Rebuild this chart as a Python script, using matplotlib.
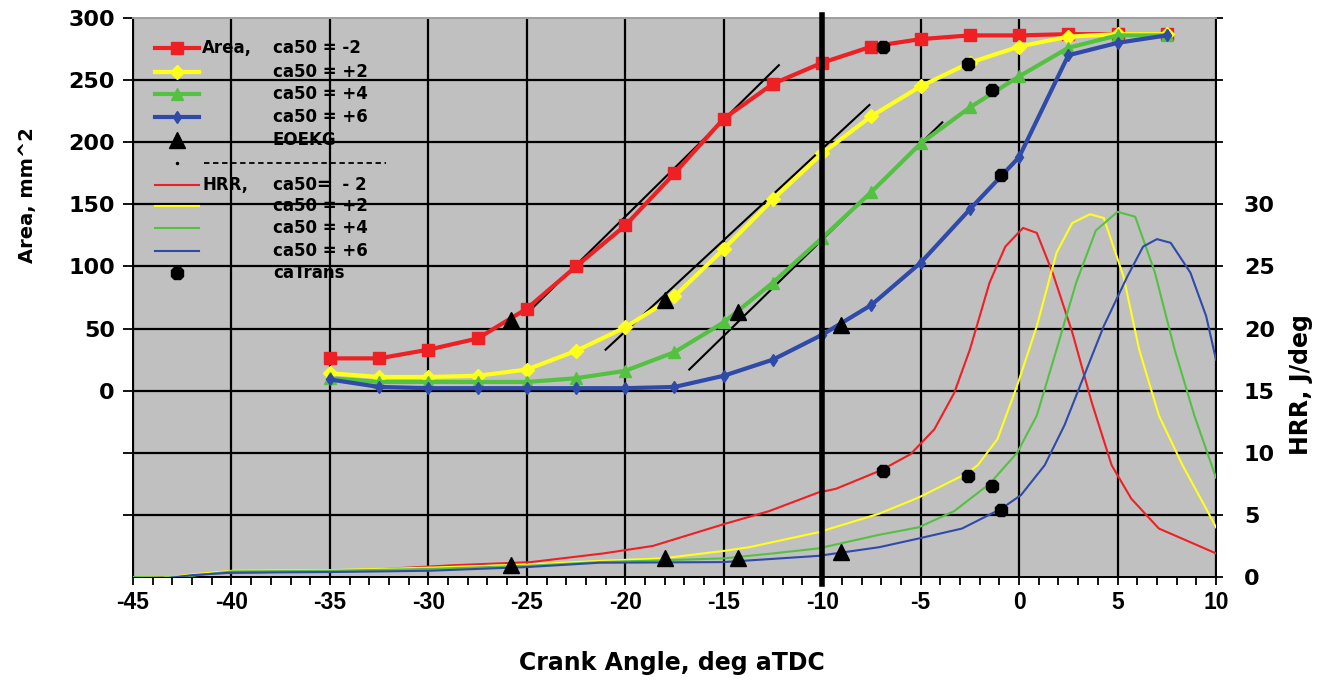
import matplotlib
matplotlib.use("Agg")
import matplotlib.pyplot as plt
from matplotlib.lines import Line2D

plt.rcParams["axes.unicode_minus"] = False

# ---------------- data ----------------
ca_area = [-35, -32.5, -30, -27.5, -25, -22.5, -20, -17.5, -15, -12.5, -10,
           -7.5, -5, -2.5, 0, 2.5, 5, 7.5]
area_m2 = [26, 26, 33, 42, 66, 100, 133, 175, 219, 247, 264, 277, 283, 286, 286, 287, 287, 287]
area_p2 = [14, 11, 11, 12, 17, 32, 51, 76, 114, 154, 191, 221, 245, 264, 277, 285, 287, 287]
area_p4 = [10, 7, 7, 7, 7, 10, 16, 31, 55, 87, 123, 160, 199, 228, 253, 276, 286, 286]
area_p6 = [9, 3, 2, 2, 2, 2, 2, 3, 12, 25, 45, 69, 103, 146, 188, 270, 280, 286]

hrr_x_m2 = [-45, -43.5, -42, -41, -38, -35, -32.8, -28.7, -24.8, -21.1, -18.6, -14.9,
            -12.7, -10.2, -9.3, -7.0, -5.5, -4.3, -3.3, -2.5, -1.5, -0.7, 0.2, 0.9,
            1.7, 2.7, 3.7, 4.7, 5.7, 7.1, 8.7, 10]
hrr_m2 = [0, -0.05, 0.15, 0.3, 0.4, 0.45, 0.6, 0.95, 1.2, 1.9, 2.5, 4.3,
          5.3, 6.8, 7.1, 8.6, 9.9, 11.9, 14.8, 18.3, 23.7, 26.6, 28.1, 27.7,
          24.5, 19.7, 14.0, 9.0, 6.3, 3.9, 2.8, 1.9]
hrr_x_p2 = [-45, -43.5, -42, -40, -35, -30, -25, -21.3, -18.1, -15, -13.7, -10.2,
            -7.1, -5.1, -2.7, -2.1, -1.1, -0.1, 0.9, 1.9, 2.7, 3.6, 4.3, 5.3, 6.1,
            7.1, 8.3, 9.5, 10]
hrr_p2 = [0, -0.05, 0.2, 0.5, 0.55, 0.75, 1.0, 1.3, 1.5, 2.1, 2.4, 3.6,
          5.1, 6.4, 8.3, 9.0, 11.1, 15.4, 20.2, 26.1, 28.5, 29.2, 28.9, 24.2, 18.3,
          13.0, 9.0, 5.5, 4.0]
hrr_x_p4 = [-45, -43.5, -42, -40, -35, -30, -25, -21.3, -18, -15, -12.5, -10.2,
            -7.1, -5.1, -3.3, -1.5, -0.1, 0.9, 1.9, 2.9, 3.9, 5.0, 5.9, 6.9, 7.9,
            8.9, 10]
hrr_p4 = [0, -0.05, 0.1, 0.45, 0.5, 0.65, 0.9, 1.2, 1.35, 1.5, 1.9, 2.3,
          3.4, 4.0, 5.3, 7.5, 10.0, 13.0, 18.3, 23.7, 27.9, 29.4, 29.0, 24.5, 18.3,
          13.0, 8.0]
hrr_x_p6 = [-45, -43.5, -42, -40, -35, -30, -25, -21.3, -15, -10.2, -7.1, -5.1,
            -2.9, -0.9, 0.1, 1.3, 2.3, 3.3, 4.3, 5.5, 6.3, 7.0, 7.7, 8.7, 9.5, 10]
hrr_p6 = [-0.1, -0.15, 0.15, 0.35, 0.4, 0.5, 0.8, 1.15, 1.2, 1.7, 2.4, 3.1,
          3.9, 5.5, 6.6, 9.0, 12.2, 16.2, 20.2, 24.2, 26.6, 27.2, 26.9, 24.5, 21.0, 17.5]

eoekg_x = [-25.8, -18.0, -14.3, -9.05]
eoekg_area = [57, 73, 63, 53]
eoekg_hrr = [0.95, 1.5, 1.5, 2.0]

catrans_x = [-6.9, -2.6, -1.4, -0.9]
catrans_area = [277, 263, 242, 174]
catrans_hrr = [8.5, 8.1, 7.3, 5.4]

# tangent lines (start/end)
tan_x = [[-25.0, -12.2], [-21.0, -7.6], [-16.75, -3.9]]
tan_y = [[62, 262], [33, 230], [17, 216]]

x_ticks = [-45, -40, -35, -30, -25, -20, -15, -10, -5, 0, 5, 10]
area_ticks = [-100, -50, 0, 50, 100, 150, 200, 250, 300]
hrr_ticks = [0, 5, 10, 15, 20, 25, 30, 35, 40, 45]

# ---------------- style ----------------
RED = "#ee2024"
YEL = "#ffff1e"
GRN = "#55c142"
BLU = "#2f4aa8"
BG = "#c0c0c0"
YFONT = "DejaVu Sans"
XFONT = "Liberation Sans"

W, H = 1332, 680
fig = plt.figure(figsize=(W / 100, H / 100), dpi=100)
L, R, T, B = 133, 1216, 18, 577
ax = fig.add_axes([L / W, 1 - B / H, (R - L) / W, (B - T) / H])
ax.set_facecolor(BG)
ax.set_xlim(-45, 10)
ax.set_ylim(-150, 300)
ax2 = ax.twinx()
ax2.set_ylim(0, 45)

for a in (ax, ax2):
    for s in a.spines.values():
        s.set_linewidth(1.3)
        s.set_color("black")
    a.spines["top"].set_color("#a0a0a0")

# grid
ax.set_xticks(x_ticks)
ax.set_xticks(range(-45, 11), minor=True)
ax.set_yticks(area_ticks)
ax.set_yticklabels(["", ""] + [str(v) for v in area_ticks[2:]])
ax.grid(True, color="black", lw=1.6, zorder=0)
ax.set_axisbelow(True)
ax.get_ygridlines()[-1].set_visible(False)
ax.tick_params(axis="x", which="both", direction="out", length=6, width=1.3, pad=4,
               labelsize=16.5)
ax.tick_params(axis="y", direction="out", length=7, width=1.3, pad=6, labelsize=16)
for lab in ax.get_xticklabels():
    lab.set_fontfamily(XFONT)
    lab.set_fontweight("bold")
for lab in ax.get_yticklabels():
    lab.set_fontfamily(YFONT)
    lab.set_fontweight("bold")

ax2.set_yticks(hrr_ticks)
ax2.set_yticklabels([str(v) if v <= 30 else "" for v in hrr_ticks])
ax2.tick_params(axis="y", direction="out", length=5, width=1.3, pad=15, labelsize=16)
for lab in ax2.get_yticklabels():
    lab.set_fontfamily(YFONT)
    lab.set_fontweight("bold")

ax.set_xlabel("Crank Angle, deg aTDC", fontsize=17, fontweight="bold",
              fontfamily=YFONT)
ax.xaxis.set_label_coords((672 - L) / (R - L), (B - 651) / (B - T))
ax.set_ylabel("Area, mm^2", fontsize=14, fontweight="bold", fontfamily=YFONT)
ax.yaxis.set_label_coords((37 - L) / (R - L), (B - 195) / (B - T))
ax2.set_ylabel("HRR, J/deg", fontsize=17, fontweight="bold", fontfamily=YFONT)
ax2.yaxis.set_label_coords((1289 - L) / (R - L), (B - 385) / (B - T))

# HRR curves
for xs, ys, c in [(hrr_x_m2, hrr_m2, RED), (hrr_x_p2, hrr_p2, YEL),
                  (hrr_x_p4, hrr_p4, GRN), (hrr_x_p6, hrr_p6, BLU)]:
    ax2.plot(xs, ys, color=c, lw=1.5, zorder=3)
ax2.plot(eoekg_x, eoekg_hrr, ls="none", marker="^", ms=11, color="black", zorder=5)
ax2.plot(catrans_x, catrans_hrr, ls="none", marker="8", ms=10, color="black", zorder=5)


def a2h(vals):
    # area axis value -> HRR axis value (both axes share the same grid)
    return [v / 10 + 15 for v in vals]


# tangent lines
for tx, ty in zip(tan_x, tan_y):
    ax2.plot(tx, a2h(ty), color="black", lw=1.5, zorder=4)

# Area curves
ax2.plot(ca_area, a2h(area_m2), color=RED, lw=3, marker="s", ms=8, zorder=6)
ax2.plot(ca_area, a2h(area_p2), color=YEL, lw=3, marker="D", ms=7, zorder=6)
ax2.plot(ca_area, a2h(area_p4), color=GRN, lw=3, marker="^", ms=8.5, zorder=6)
ax2.plot(ca_area, a2h(area_p6), color=BLU, lw=3, marker="d", ms=6.5, zorder=6)
ax2.plot(eoekg_x, a2h(eoekg_area), ls="none", marker="^", ms=11, color="black", zorder=7)
ax2.plot(catrans_x, a2h(catrans_area), ls="none", marker="8", ms=10, color="black", zorder=7)

# thick reference line at -10 deg
ax2.axvline(-10, ymin=-0.012, ymax=1.006, color="black", lw=4, zorder=8, clip_on=False)

# ---------------- legend (manual, in axes fraction) ----------------
def fx(px):
    return (px - L) / (R - L)


def fy(py):
    return (B - py) / (B - T)


rows = [48, 72, 94, 117, 140, 163, 185, 206, 228, 251, 273]
samples = [
    dict(color=RED, lw=3, marker="s", ms=8),
    dict(color=YEL, lw=3, marker="D", ms=7),
    dict(color=GRN, lw=3, marker="^", ms=8.5),
    dict(color=BLU, lw=3, marker="d", ms=6.5),
    dict(color="black", lw=0, marker="^", ms=11),
    dict(color="black", lw=0, marker=".", ms=3),
    dict(color=RED, lw=1.5),
    dict(color=YEL, lw=1.5),
    dict(color=GRN, lw=1.5),
    dict(color=BLU, lw=1.5),
    dict(color="black", lw=0, marker="8", ms=10),
]
texts = ["ca50 = -2", "ca50 = +2", "ca50 = +4", "ca50 = +6", "EOEKG", None,
         "ca50=  - 2", "ca50 = +2", "ca50 = +4", "ca50 = +6", "caTrans"]
tkw = dict(transform=ax.transAxes, fontsize=12, fontweight="bold", fontfamily=YFONT,
           va="center", ha="left", zorder=10)
for r, s, t in zip(rows, samples, texts):
    if s.get("lw", 0) > 0:
        ax.add_line(Line2D([fx(155), fx(199)], [fy(r), fy(r)], transform=ax.transAxes,
                           color=s["color"], lw=s["lw"], zorder=10))
    if "marker" in s:
        ax.add_line(Line2D([fx(177)], [fy(r)], transform=ax.transAxes, ls="none",
                           color=s["color"], marker=s["marker"], ms=s["ms"], zorder=11))
    if t is not None:
        ax.text(fx(273), fy(r), t, **tkw)
ax.text(fx(202), fy(rows[0]), "Area,", **tkw)
ax.text(fx(202), fy(rows[6]), "HRR,", **tkw)
ax.add_line(Line2D([fx(204), fx(386)], [fy(rows[5]), fy(rows[5])], transform=ax.transAxes,
                   color="black", lw=1.3, dashes=(3, 2), zorder=10))

fig.savefig("out.png", dpi=100)
